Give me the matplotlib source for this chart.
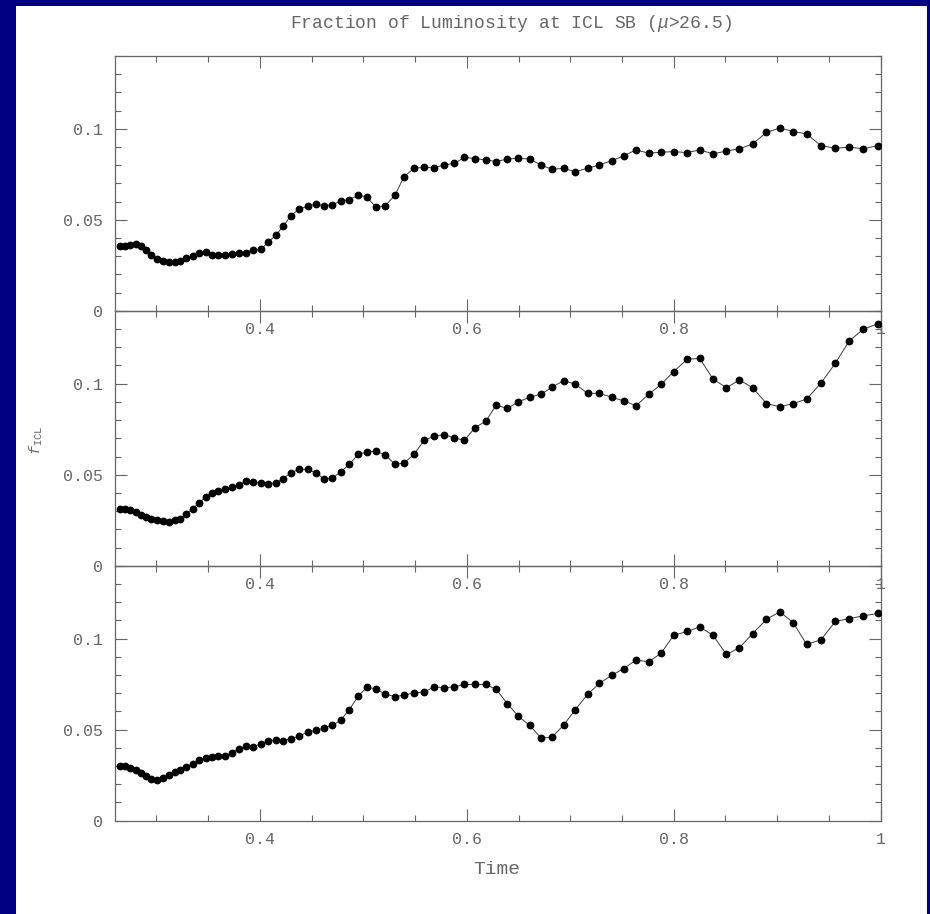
import matplotlib
matplotlib.use('Agg')
from matplotlib import pyplot as plt
from matplotlib.ticker import MultipleLocator, FuncFormatter
from matplotlib.patches import Rectangle

# snapshot times (shared by all three runs)
time = [0.2652, 0.2701, 0.2749, 0.2800, 0.2855, 0.2904, 0.2952, 0.3006, 0.3064, 0.3122,
        0.3178, 0.3233, 0.3291, 0.3349, 0.3413, 0.3477, 0.3542, 0.3597, 0.3661, 0.3726,
        0.3797, 0.3862, 0.3935, 0.4010, 0.4080, 0.4155, 0.4225, 0.4297, 0.4377, 0.4462,
        0.4539, 0.4619, 0.4700, 0.4781, 0.4864, 0.4951, 0.5032, 0.5120, 0.5209, 0.5306,
        0.5393, 0.5490, 0.5587, 0.5684, 0.5780, 0.5880, 0.5977, 0.6080, 0.6184, 0.6284,
        0.6393, 0.6499, 0.6606, 0.6719, 0.6822, 0.6935, 0.7048, 0.7167, 0.7280, 0.7403,
        0.7515, 0.7635, 0.7757, 0.7877, 0.7999, 0.8129, 0.8251, 0.8380, 0.8509, 0.8635,
        0.8763, 0.8896, 0.9025, 0.9154, 0.9283, 0.9421, 0.9561, 0.9696, 0.9832, 0.9973]

# ICL luminosity fraction, one list per run
f_top = [0.0354, 0.0355, 0.0361, 0.0365, 0.0354, 0.0335, 0.0304, 0.0285, 0.0273, 0.0271,
         0.0271, 0.0273, 0.0291, 0.0302, 0.0317, 0.0322, 0.0308, 0.0308, 0.0308, 0.0313,
         0.0320, 0.0320, 0.0335, 0.0339, 0.0376, 0.0416, 0.0464, 0.0521, 0.0558, 0.0575,
         0.0586, 0.0578, 0.0582, 0.0604, 0.0611, 0.0635, 0.0626, 0.0571, 0.0576, 0.0635,
         0.0737, 0.0783, 0.0788, 0.0786, 0.0801, 0.0810, 0.0843, 0.0836, 0.0829, 0.0820,
         0.0834, 0.0838, 0.0834, 0.0801, 0.0777, 0.0783, 0.0764, 0.0783, 0.0801, 0.0825,
         0.0851, 0.0884, 0.0866, 0.0871, 0.0875, 0.0869, 0.0884, 0.0862, 0.0878, 0.0890,
         0.0917, 0.0980, 0.1004, 0.0985, 0.0972, 0.0908, 0.0893, 0.0899, 0.0890, 0.0908]

f_mid = [0.0313, 0.0313, 0.0307, 0.0294, 0.0279, 0.0267, 0.0257, 0.0252, 0.0248, 0.0243,
         0.0250, 0.0257, 0.0285, 0.0313, 0.0346, 0.0377, 0.0401, 0.0408, 0.0423, 0.0432,
         0.0445, 0.0463, 0.0460, 0.0456, 0.0450, 0.0456, 0.0478, 0.0511, 0.0529, 0.0529,
         0.0511, 0.0478, 0.0482, 0.0515, 0.0557, 0.0612, 0.0625, 0.0629, 0.0610, 0.0557,
         0.0564, 0.0612, 0.0689, 0.0711, 0.0720, 0.0702, 0.0689, 0.0759, 0.0794, 0.0882,
         0.0864, 0.0901, 0.0925, 0.0943, 0.0980, 0.1016, 0.0998, 0.0947, 0.0947, 0.0925,
         0.0906, 0.0879, 0.0941, 0.0996, 0.1066, 0.1134, 0.1139, 0.1025, 0.0978, 0.1020,
         0.0978, 0.0891, 0.0873, 0.0891, 0.0915, 0.1002, 0.1112, 0.1235, 0.1299, 0.1329]

f_bot = [0.0298, 0.0298, 0.0289, 0.0276, 0.0261, 0.0246, 0.0228, 0.0224, 0.0234, 0.0252,
         0.0265, 0.0279, 0.0294, 0.0313, 0.0331, 0.0344, 0.0350, 0.0357, 0.0357, 0.0372,
         0.0394, 0.0408, 0.0405, 0.0421, 0.0436, 0.0445, 0.0439, 0.0450, 0.0463, 0.0487,
         0.0496, 0.0509, 0.0524, 0.0551, 0.0610, 0.0684, 0.0733, 0.0724, 0.0695, 0.0682,
         0.0689, 0.0702, 0.0706, 0.0735, 0.0730, 0.0735, 0.0748, 0.0748, 0.0748, 0.0721,
         0.0642, 0.0573, 0.0524, 0.0454, 0.0458, 0.0524, 0.0610, 0.0693, 0.0754, 0.0799,
         0.0835, 0.0882, 0.0873, 0.0919, 0.1018, 0.1039, 0.1064, 0.1018, 0.0913, 0.0950,
         0.1028, 0.1106, 0.1147, 0.1088, 0.0969, 0.0992, 0.1094, 0.1110, 0.1125, 0.1138]

plt.rcParams['font.family'] = 'Liberation Mono'
plt.rcParams['mathtext.fontset'] = 'custom'
plt.rcParams['mathtext.rm'] = 'Liberation Mono'
plt.rcParams['mathtext.it'] = 'Liberation Mono:italic'

grey = '#666666'
W, H = 930, 914

fig = plt.figure(figsize=(W / 100, H / 100), dpi=100, facecolor='#000080')
# white page on the navy background
fig.add_artist(Rectangle((16 / W, 0), (927 - 16) / W, 1 - 6 / H,
                         transform=fig.transFigure, facecolor='white',
                         edgecolor='none', zorder=-5))

left, width = 115 / W, (880.7 - 115) / W
bottom, height = 0.1021, 0.2789

fmt = FuncFormatter(lambda v, p: '%g' % round(v, 4))

for i, frac in enumerate([f_top, f_mid, f_bot]):
    ax = fig.add_axes([left, bottom + (2 - i) * height, width, height])
    ax.patch.set_visible(False)
    ax.plot(time, frac, '-', color='#3a3a3a', lw=0.7, marker='o', ms=4.6,
            mfc='black', mec='black', zorder=3)
    ax.set_xlim(0.26, 1.0)
    ax.set_ylim(0, 0.14)
    ax.xaxis.set_major_locator(MultipleLocator(0.2))
    ax.xaxis.set_minor_locator(MultipleLocator(0.05))
    ax.yaxis.set_major_locator(MultipleLocator(0.05))
    ax.yaxis.set_minor_locator(MultipleLocator(0.01))
    ax.xaxis.set_major_formatter(fmt)
    ax.yaxis.set_major_formatter(fmt)
    for s in ax.spines.values():
        s.set_color(grey)
        s.set_linewidth(0.9)
    ax.tick_params(which='both', direction='in', top=True, right=True,
                   color=grey, labelcolor=grey, labelsize=12, width=0.8)
    ax.tick_params(which='major', length=8.5)
    ax.tick_params(which='minor', length=4.3)
    ax.tick_params(axis='x', which='major', pad=8)
    ax.tick_params(axis='y', which='major', pad=9)

fig.text(511 / W, 1 - 23 / H, r'Fraction of Luminosity at ICL SB ($\mu$>26.5)',
         ha='center', va='center', fontsize=13, color=grey)
fig.text(497 / W, 1 - 870 / H, 'Time', ha='center', va='center',
         fontsize=14, color=grey)
fig.text(36 / W, 1 - 440 / H, r'$f_{\rm ICL}$', ha='center', va='center',
         rotation=90, fontsize=11, color=grey)

fig.savefig('out.png', dpi=100, facecolor=fig.get_facecolor())
